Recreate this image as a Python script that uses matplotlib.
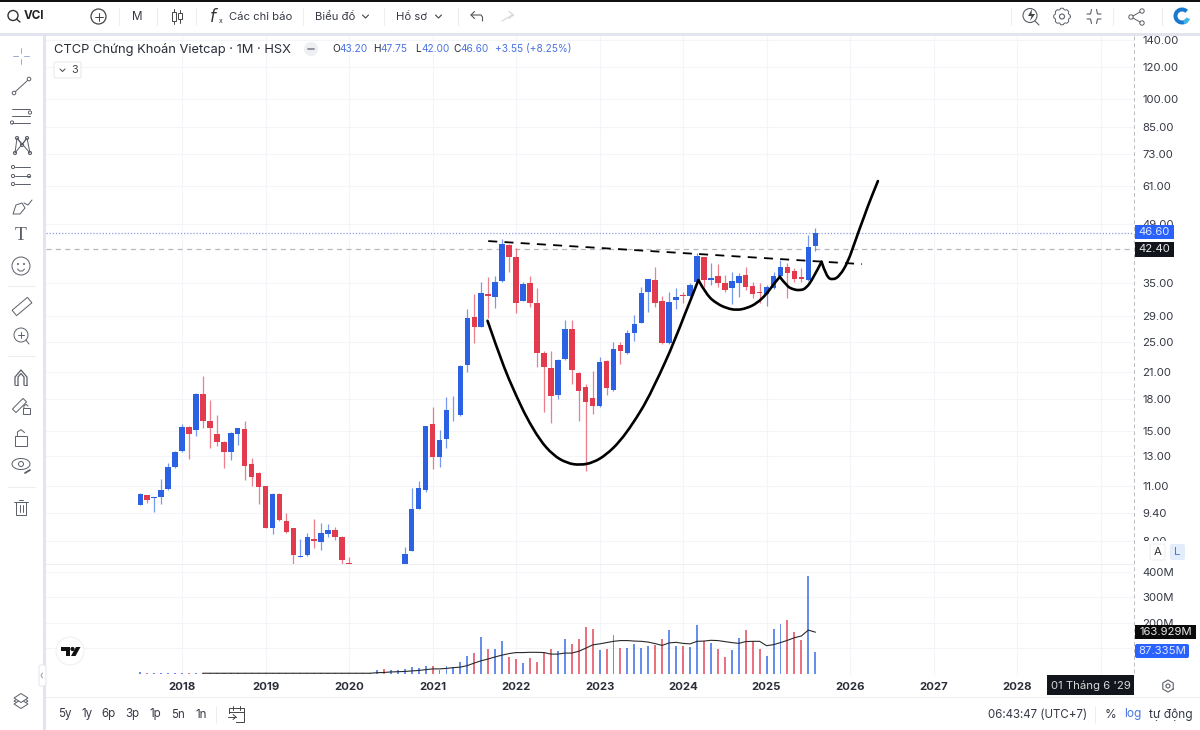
import numpy as np
import matplotlib
matplotlib.use("Agg")
import matplotlib.pyplot as plt
from matplotlib.patches import Circle, FancyBboxPatch, PathPatch, Polygon, Rectangle, Wedge
from matplotlib.path import Path
from matplotlib.ticker import NullLocator

plt.rcParams['font.family'] = ['Inter', 'Roboto', 'DejaVu Sans']

# monthly candles, Jul 2017 to Aug 2025
opens = [9.87, 10.45, 10.24, 10.28, 10.76, 12.20, 13.39, 15.41, 15.15, 18.54, 15.92, 14.78, 14.12, 13.29,
         14.78, 15.21, 12.43, 11.79, 10.96, 8.64, 10.51, 9.01, 8.62, 7.32, 7.38, 8.12, 7.98, 8.35,
         8.53, 8.22, 7.09, 6.66, 6.17, 6.41, 6.30, 6.50, 6.29, 6.60, 6.66, 7.58, 9.65, 10.72,
         15.62, 12.96, 14.39, 16.99, 16.44, 21.88, 28.84, 27.23, 32.76, 32.32, 35.35, 43.42, 40.62, 31.59,
         34.88, 31.12, 23.39, 21.47, 18.43, 22.60, 26.82, 20.94, 19.26, 18.09, 17.31, 22.43, 18.97, 24.48,
         23.39, 26.22, 27.86, 33.13, 35.55, 31.53, 24.76, 31.71, 32.57, 32.45, 35.08, 40.47, 35.55, 36.37,
         35.01, 33.90, 35.01, 36.58, 34.35, 33.26, 32.82, 33.96, 36.37, 38.36, 37.43, 36.10, 35.55, 43.20]
highs = [10.55, 10.45, 10.28, 11.45, 12.48, 13.41, 15.59, 15.47, 18.61, 20.55, 17.92, 16.44, 14.18, 14.95,
         15.30, 15.89, 12.89, 11.90, 11.00, 10.55, 10.57, 9.38, 8.64, 8.10, 8.37, 9.08, 8.89, 8.82,
         8.69, 8.24, 7.32, 7.05, 6.53, 6.79, 6.79, 6.92, 6.90, 7.00, 7.75, 10.82, 11.30, 15.44,
         17.25, 15.09, 18.19, 18.33, 21.84, 30.07, 32.82, 35.22, 36.10, 36.37, 44.85, 43.58, 42.60, 35.22,
         36.37, 33.90, 23.70, 23.75, 22.60, 28.29, 28.29, 21.02, 19.63, 21.18, 22.95, 22.51, 25.00, 25.00,
         26.72, 29.11, 34.22, 35.82, 38.36, 32.45, 33.26, 33.90, 33.26, 35.01, 41.40, 40.62, 39.10, 38.95,
         36.58, 37.28, 36.93, 38.36, 35.22, 35.01, 34.55, 37.28, 39.85, 39.25, 38.00, 38.00, 45.97, 47.75]
lows = [9.82, 9.97, 9.47, 9.93, 10.72, 12.17, 13.34, 12.82, 14.59, 15.24, 13.65, 13.78, 12.17, 12.72,
        13.86, 11.35, 10.96, 9.93, 8.62, 8.33, 9.01, 8.40, 7.05, 7.31, 7.36, 7.71, 7.61, 8.21,
        8.05, 7.05, 6.66, 6.17, 5.94, 6.17, 6.17, 6.17, 6.53, 6.53, 6.53, 7.56, 9.61, 10.60,
        12.10, 12.20, 13.67, 15.92, 16.41, 21.06, 24.76, 27.13, 28.56, 30.24, 35.22, 37.28, 29.50, 31.47,
        30.41, 21.59, 16.76, 15.74, 18.02, 22.51, 19.63, 15.92, 11.97, 16.54, 17.25, 18.43, 18.90, 22.01,
        23.30, 25.14, 27.76, 29.67, 30.41, 24.67, 24.67, 30.07, 31.12, 32.32, 34.95, 34.22, 34.55, 34.22,
        33.26, 31.00, 32.20, 33.58, 32.02, 31.12, 30.65, 33.84, 36.24, 32.02, 35.22, 35.22, 35.42, 42.00]
closes = [10.47, 10.14, 10.28, 10.72, 12.22, 13.34, 15.41, 14.78, 18.54, 15.92, 15.27, 14.12, 13.34, 14.81,
          15.24, 12.27, 11.52, 10.90, 8.64, 10.51, 9.03, 8.43, 7.41, 7.36, 8.21, 8.01, 8.37, 8.56,
          8.22, 7.18, 7.02, 6.41, 6.41, 6.66, 6.50, 6.29, 6.80, 6.90, 7.46, 9.60, 10.82, 15.44,
          12.96, 14.26, 16.92, 17.05, 21.76, 28.56, 27.23, 32.95, 32.45, 35.08, 43.67, 40.47, 31.12, 34.75,
          31.12, 23.39, 21.67, 18.36, 22.51, 26.82, 21.26, 18.90, 17.75, 17.31, 22.30, 19.15, 23.93, 23.75,
          26.22, 27.71, 32.95, 35.69, 31.12, 24.76, 31.41, 32.20, 32.45, 34.55, 40.85, 35.55, 36.03, 34.88,
          33.58, 35.42, 36.37, 34.22, 32.82, 32.95, 34.09, 36.37, 38.22, 37.07, 35.82, 35.69, 43.01, 46.60]

# volume in millions
volumes = [8, 4, 4, 4, 4, 4, 4, 4, 4, 4, 4, 4, 4, 4, 4, 4, 4, 4, 4, 4, 4, 4, 4, 4, 4, 4, 4, 4, 4, 4, 4, 4, 4,
           5, 17, 21, 16, 14, 20, 26, 22, 33, 33, 14, 30, 29, 47, 71, 82, 144, 98, 98, 131, 65, 60, 43, 63, 47,
           85, 98, 90, 139, 119, 139, 183, 176, 95, 99, 154, 103, 102, 116, 100, 111, 114, 139, 174, 111, 110,
           106, 193, 128, 123, 99, 65, 95, 140, 171, 128, 98, 72, 176, 197, 213, 165, 135, 385, 87.335]
# volume average starts at the tenth candle
vol_avg = [3, 3, 3, 3, 3, 3, 3, 3, 3, 3, 3, 3, 3, 3, 3, 3, 3, 3, 3, 3, 3, 3, 3, 3, 3,
           5, 6, 8, 9, 10, 12, 14, 17, 20, 20, 22, 25, 27, 33, 43, 52, 59, 67, 74, 80, 84, 84, 85, 85, 84,
           78, 78, 82, 82, 89, 101, 114, 118, 123, 128, 131, 131, 129, 128, 125, 119, 112, 122, 124, 120,
           118, 128, 129, 132, 131, 127, 123, 120, 127, 128, 128, 111, 115, 123, 132, 142, 149, 172, 163.929]

# hand drawn cup and handle, month index / price
cup_x = [49.9, 51.2, 52.6, 54.1, 55.5, 57.4, 59.3, 61.3, 63.2, 65.1, 67.0, 68.9, 70.8, 72.8, 74.7, 76.1, 77.5, 79.0, 80.2]
cup_y = [28.18, 24.25, 20.85, 18.23, 16.21, 14.26, 13.09, 12.50, 12.36, 12.54, 13.13, 14.13, 15.67, 17.81, 20.85, 23.57, 27.03, 31.45, 35.55]
handle1_x = [80.2, 81.4, 82.8, 84.3, 85.7, 87.1, 88.6, 90.0, 90.9, 91.9]
handle1_y = [35.55, 32.63, 31.12, 30.25, 29.95, 30.25, 31.12, 32.82, 34.55, 36.23]
handle2_x = [91.9, 92.9, 93.8, 94.8, 95.7, 96.7, 97.9]
handle2_y = [36.23, 34.35, 33.71, 33.52, 33.91, 35.96, 39.47]
rally_x = [97.9, 98.6, 99.5, 100.5, 101.7, 102.8, 104.0, 105.0, 106.0]
rally_y = [39.47, 36.23, 35.55, 36.37, 39.40, 44.68, 50.94, 56.79, 62.58]
neck_x = [50.0, 103.7]
neck_y = [44.42, 38.95]

price_ticks = [140, 120, 100, 85, 73, 61, 49, 35, 29, 25, 21, 18, 15, 13, 11, 9.40, 8.00]
vol_ticks = [100, 200, 300, 400]
year_ticks = [6, 18, 30, 42, 54, 66, 78, 90, 102, 114, 126, 138]
year_labels = ['2018', '2019', '2020', '2021', '2022', '2023', '2024', '2025', '2026', '2027', '2028', '']
last_close = 46.60
prev_close = 42.40

BLUE = '#2b62e3'
RED = '#e23b4e'
GRID = '#f4f5f8'
BORDER = '#e3e5ee'
TEXT = '#363a45'
ICON = '#5a5e68'
W, H = 1200, 730

fig = plt.figure(figsize=(12, 7.3), dpi=100)
fig.patch.set_facecolor('white')


def pane(x0, y0, x1, y1):
    return fig.add_axes([x0 / W, 1 - y1 / H, (x1 - x0) / W, (y1 - y0) / H])


def style_pane(ax):
    ax.set_xlim(-13.55, 142.8)
    ax.set_xticks(year_ticks)
    ax.grid(True, color=GRID, lw=0.8)
    ax.set_axisbelow(True)
    ax.yaxis.tick_right()
    ax.tick_params(length=0, labelsize=8.2, labelcolor=TEXT)
    ax.tick_params(axis='y', pad=5.8)
    for s in ax.spines.values():
        s.set_visible(False)


# candles on a log price scale
ax = pane(46, 35, 1134, 564)
style_pane(ax)
ax.set_yscale('log')
ax.set_ylim(7.03, 144.06)
ax.set_yticks(price_ticks)
ax.set_yticklabels([f'{v:.2f}' for v in price_ticks])
ax.yaxis.set_minor_locator(NullLocator())
ax.tick_params(axis='x', labelbottom=False)

idx = np.arange(len(opens))
up = np.array(closes) >= np.array(opens)
colors = [BLUE if u else RED for u in up]
ax.vlines(idx, lows, highs, colors=colors, lw=0.9, alpha=0.65, zorder=2)
body_lo = np.minimum(opens, closes)
body_hi = np.maximum(opens, closes)
ax.bar(idx, body_hi - body_lo, bottom=body_lo, width=0.8, color=colors, lw=0, zorder=3)

ax.axhline(last_close, color='#8d9fe6', lw=0.9, ls=(0, (1, 1.5)), zorder=1)
ax.axhline(prev_close, color='#b5b8bf', lw=0.9, ls=(0, (4, 3.5)), zorder=1)


def smooth_path(xs, ys):
    # quadratic segments through midpoints, so the stroke has no facets
    pts = np.column_stack([xs, ys])
    verts = [pts[0]]
    codes = [Path.MOVETO]
    for k in range(1, len(pts) - 1):
        end = pts[k + 1] if k == len(pts) - 2 else (pts[k] + pts[k + 1]) / 2
        verts += [pts[k], end]
        codes += [Path.CURVE3, Path.CURVE3]
    return Path(verts, codes)


for xs, ys in [(cup_x, cup_y), (handle1_x, handle1_y), (handle2_x, handle2_y), (rally_x, rally_y)]:
    ax.add_patch(PathPatch(smooth_path(xs, ys), fc='none', ec='black', lw=1.9, zorder=5, capstyle='round'))
ax.plot(neck_x, neck_y, color='black', lw=1.3, ls=(0, (5, 4)), zorder=5)

# volume pane
vax = pane(46, 565, 1134, 676)
style_pane(vax)
vax.set_ylim(-7.8, 427)
vax.set_yticks(vol_ticks)
vax.set_yticklabels([f'{v}M' if v != 100 else '' for v in vol_ticks])
vax.set_xticklabels(year_labels)
vax.tick_params(axis='x', pad=4.5, labelsize=8.2, labelcolor='#2a2e39')
for t in vax.get_xticklabels():
    t.set_fontweight('bold')
vax.bar(idx, volumes, width=0.28, color=colors, alpha=0.72, lw=0, zorder=2)
vax.plot(idx[9:], vol_avg, color='#2a2a2a', lw=0.8, zorder=3)

# everything around the panes is drawn in pixel coordinates
ui = fig.add_axes([0, 0, 1, 1], zorder=10)
ui.set_xlim(0, W)
ui.set_ylim(H, 0)
ui.axis('off')
ui.patch.set_alpha(0)


def rect(x0, y0, x1, y1, color, **kw):
    ui.add_patch(Rectangle((x0, y0), x1 - x0, y1 - y0, fc=color, ec='none', **kw))


def label(x, y, s, size=8.6, color=TEXT, ha='left', **kw):
    ui.text(x, y, s, fontsize=size, color=color, ha=ha, va='center', **kw)


def line(xs, ys, color=ICON, lw=0.7, **kw):
    ui.plot(xs, ys, color=color, lw=lw, solid_capstyle='round', **kw)


def ring(x, y, r, color=ICON, lw=0.7, fc='none'):
    ui.add_patch(Circle((x, y), r, fc=fc, ec=color, lw=lw))


def pill(x0, y0, x1, y1, color, ec='none'):
    ui.add_patch(FancyBboxPatch((x0 + 2, y0 + 2), x1 - x0 - 4, y1 - y0 - 4, boxstyle='round,pad=2',
                                fc=color, ec=ec, lw=0.7))


# frame
rect(0, 0, W, 1.5, '#111111')
rect(0, 33, W, 36, BORDER)
rect(43, 36, 46, H, BORDER)
rect(46, 564, 1134, 565.2, '#eceef3')
rect(46, 696.5, W, 697.7, '#eceef3')
line([1134, 1134], [36, 676], color='#b9bcc4', lw=0.7, ls=(0, (4, 3)))

# top toolbar
ring(13, 15.5, 5, color='#333333', lw=1)
line([16.5, 20], [19, 22], color='#333333', lw=1)
label(24, 16, 'VCI', size=8.4, color='#222222', fontweight='bold')
ring(98.5, 16.5, 7.5, color='#444444', lw=0.9)
line([98.5, 98.5], [12.5, 20.5], color='#444444')
line([94.5, 102.5], [16.5, 16.5], color='#444444')
label(137.5, 16.5, 'M', ha='center', size=8.4)
for cx, top, bot, w0, w1 in [(174, 12, 21, 9, 24), (180, 13, 19, 10, 23)]:
    ui.add_patch(Rectangle((cx - 2, top), 4, bot - top, fc='white', ec='#444444', lw=0.7))
    line([cx, cx], [w0, top], color='#444444')
    line([cx, cx], [bot, w1], color='#444444')
ui.text(214, 16, r'$f$', fontsize=12, color='#333333', ha='center', va='center')
label(219, 21, 'x', size=5, color='#333333')
label(229, 16.5, 'Các chỉ báo', size=8.1)
label(315, 16.5, 'Biểu đồ', size=8.1)
label(396, 16.5, 'Hồ sơ', size=8.1)
for cx in (365.5, 438.5):
    line([cx - 3, cx, cx + 3], [15, 18, 15], color='#444444', lw=0.8)
line([471, 481, 482.5, 482.5], [15, 15, 17, 21], color='#555555', lw=0.8)
line([474.5, 471, 474.5], [11.5, 15, 18.5], color='#555555', lw=0.8)
line([502, 512, 513.5], [21, 15, 15], color='#d4d6da', lw=0.8)
line([509, 513.5, 509], [11.5, 15, 18.5], color='#d4d6da', lw=0.8)
for sx in (119, 157, 196, 303, 384, 458, 1011, 1113, 1162):
    line([sx, sx], [8, 25], color='#eceef2', lw=0.8)

ring(1030, 15.5, 7, lw=0.8)
line([1035, 1039], [21, 25], lw=0.8)
ui.add_patch(Polygon([(1032, 9), (1028, 16), (1031.5, 16), (1030, 21), (1035, 14), (1031.5, 14)], fc='#444444', ec='none'))
ring(1062, 16.5, 2.5, lw=0.8)
gear = np.linspace(0, 2 * np.pi, 41)
gear_r = 7.2 + 1.1 * np.where(np.cos(8 * gear) > 0, 1, 0)
line(1062 + gear_r * np.cos(gear), 16.5 + gear_r * np.sin(gear), lw=0.7)
for sx, sy in [(-1, -1), (1, -1), (-1, 1), (1, 1)]:
    cx, cy = 1094 + sx * 2.5, 16.5 + sy * 2.5
    line([cx + sx * 4.5, cx + sx * 1, cx], [cy, cy, cy + sy * 4.5], lw=0.8)
ring(1131, 17, 2.2)
ring(1142, 11, 2.2)
ring(1142, 23, 2.2)
line([1133, 1140], [16, 12])
line([1133, 1140], [18, 22])
ui.add_patch(Wedge((1182, 16), 8.5, 45, 315, width=4, fc='#1b78cf', ec='none'))
ui.add_patch(Wedge((1182, 16), 8.5, 20, 75, width=4, fc='#3fb5e8', ec='none'))

# left toolbar
line([21, 21], [48, 53], color='#9aa9d6')
line([21, 21], [59, 64], color='#9aa9d6')
line([13, 18], [56, 56], color='#9aa9d6')
line([24, 29], [56, 56], color='#9aa9d6')
ring(14, 93, 1.8)
ring(29, 79, 1.8)
line([15.5, 27.5], [91.5, 80.5])
for ly, rx in [(109, 29), (116, 29), (123, 12)]:
    line([12, 30], [ly, ly])
ring(30, 112.5, 1.6)
ring(12, 122.5, 1.6)
for px, py in [(15, 153), (17, 138), (27, 138), (30, 153), (22, 145)]:
    ring(px, py, 1.6)
line([15, 17, 22, 27, 30], [153, 138, 145, 138, 153])
line([15, 27], [153, 138])
line([17, 30], [138, 153])
for ly in (167, 176, 184):
    ring(13, ly, 1.6)
    line([15, 30], [ly, ly])
ring(29, 176, 1.6)
ui.add_patch(Polygon([(13, 214), (16, 205), (22, 203), (25, 208), (20, 214)], fc='white', ec=ICON, lw=0.7))
line([24, 28, 32], [203, 205, 200])
label(21, 236, 'T', size=14, color=ICON, ha='center', family='Liberation Serif')
ring(21, 266, 9)
ring(18, 264, 0.5)
ring(24, 264, 0.5)
line([17.5, 19.5, 22.5, 24.5], [269, 271, 271, 269])
ui.add_patch(Rectangle((12, 303), 20, 7, angle=-40, rotation_point='center', fc='white', ec=ICON, lw=0.7))
ring(21, 335, 7)
line([26, 29], [340, 344])
line([21, 21], [332, 338])
line([18, 24], [335, 335])
line([15, 15, 21, 27, 27], [385, 377, 370, 377, 385], lw=0.9)
line([18, 18, 21, 24, 24], [385, 377, 373.5, 377, 385], lw=0.9)
line([15, 18], [385, 385])
line([24, 27], [385, 385])
ui.add_patch(Rectangle((12, 403), 15, 5, angle=-45, rotation_point='center', fc='white', ec=ICON, lw=0.7))
for cx, cy, sz in [(26, 411, 3.5), (21, 441, 6)]:
    ui.add_patch(Rectangle((cx - sz, cy - sz * 0.8), 2 * sz, 1.6 * sz, fc='white', ec=ICON, lw=0.7))
    line([cx - sz * 0.6, cx - sz * 0.6, cx, cx + sz * 0.6], [cy - sz * 0.8, cy - sz * 1.5, cy - sz * 1.9, cy - sz * 1.4])
ui.add_patch(Polygon(np.column_stack([21 + 9 * np.cos(gear), 464 + 5.5 * np.sin(gear)]), fc='none', ec=ICON, lw=0.7))
ring(21, 464, 2.5)
line([25, 30], [473, 470], lw=1.3)
line([14, 28], [502, 502])
ui.add_patch(Rectangle((16, 502), 10, 13, fc='white', ec=ICON, lw=0.7))
line([19, 23], [500, 500])
line([19.5, 19.5], [505, 512])
line([22.5, 22.5], [505, 512])
for sy in (286, 356, 487):
    line([8, 35], [sy, sy], color='#eceef2', lw=0.8)
for ly, c in [(701, 'white'), (704, 'white')]:
    ui.add_patch(Polygon([(14, ly), (21, ly + 4.5), (28, ly), (21, ly - 4.5)], fc=c, ec=ICON, lw=0.7))
ui.add_patch(Polygon([(14, 698), (21, 702.5), (28, 698), (21, 693.5)], fc='white', ec=ICON, lw=0.7))

# legend row
label(54, 49, 'CTCP Chứng Khoán Vietcap · 1M · HSX', size=9.3, color='#2a2e39')
ring(311, 49, 6.5, color='#eeeff2', fc='#eeeff2')
line([308, 314], [49, 49], color='#8a8d96', lw=1.3)
for x, k, v in [(332, 'O', '43.20'), (373, 'H', '47.75'), (415, 'L', '42.00'), (453, 'C', '46.60')]:
    label(x, 49, k, size=7.3, color='#2a2e39')
    label(x + (7.5 if k != 'L' else 6), 49, v, size=7.3, color='#4a74e0')
label(495, 49, '+3.55 (+8.25%)', size=7.3, color='#4a74e0')
pill(54, 62, 81, 78, 'white', ec='#e6e7ec')
line([60, 62.5, 65], [69, 71.5, 69], color='#444444')
label(71, 70, '3', size=7.8, color='#444444')

# price and volume tags on the scale
rect(1135, 225, 1174, 239, '#2962ff')
label(1154.5, 232, f'{last_close:.2f}', size=8.2, color='#dfe6ff', ha='center')
rect(1135, 242, 1174, 257, '#12151c')
label(1154.5, 249.5, f'{prev_close:.2f}', size=8.2, color='#e6e6e6', ha='center')
rect(1136, 541, 1192, 563, 'white')
pill(1150, 544, 1165, 560, 'white', ec='#eceef2')
label(1157.5, 552, 'A', size=8.2, color='#333333', ha='center')
pill(1170, 544, 1185, 560, '#e3ecfb')
label(1177.5, 552, 'L', size=8.2, color='#4a74e0', ha='center')
rect(1135, 625, 1196, 639, '#0a0a0a')
label(1165.5, 632, f'{vol_avg[-1]:.3f}M', size=8.2, color='#e8e8e8', ha='center')
pill(1135, 644, 1189, 658, '#2962ff')
label(1162, 651, f'{volumes[-1]:.3f}M', size=8.2, color='#dfe6ff', ha='center')

# crosshair date tag and axis settings
rect(1047, 675, 1134, 695, '#12151c')
label(1090.5, 686, "01 Tháng 6 '29", size=8.2, color='#d8d8d8', ha='center')
hexa = np.linspace(np.pi / 6, 2 * np.pi + np.pi / 6, 7)
line(1168 + 6 * np.cos(hexa), 686 + 6 * np.sin(hexa), lw=0.8)
ring(1168, 686, 2, lw=0.8)

# tradingview badge
ring(70, 651, 14, color='#eeeff2', fc='white')
ui.add_patch(Polygon([(61, 647), (69.5, 647), (69.5, 656), (65.5, 656), (65.5, 651), (61, 651)], fc='#111111', ec='none'))
ring(72.5, 649, 1.6, color='#111111', fc='#111111')
ui.add_patch(Polygon([(76, 647), (80.5, 647), (75.5, 656), (71, 656)], fc='#111111', ec='none'))
pill(39, 665, 46, 686, 'white', ec='#e3e5ee')
line([42.5, 41, 42.5], [673, 675.5, 678], color='#9a9da5', lw=0.7)

# bottom bar
for x, s in [(64.5, '5y'), (87, '1y'), (109, '6p'), (132.5, '3p'), (155.5, '1p'), (178, '5n'), (201.5, '1n')]:
    label(x, 714.5, s, size=8.3, ha='center')
line([216, 216], [706, 723], color='#eceef2')
ui.add_patch(Rectangle((229, 708), 15, 14, fc='none', ec='#444444', lw=0.7))
line([233, 233], [706, 710], color='#444444')
line([240, 240], [706, 710], color='#444444')
line([229, 244], [712, 712], color='#444444')
rect(227, 714, 236, 723, 'white')
line([228, 236], [717, 717], color='#444444')
line([233, 236, 233], [714.5, 717, 719.5], color='#444444')
label(1087, 714.5, '06:43:47 (UTC+7)', size=8.3, ha='right')
line([1095, 1095], [706, 723], color='#eceef2')
label(1110, 714.5, '%', size=8.6, ha='center')
label(1133, 714.5, 'log', size=8.6, color='#4a74e0', ha='center')
label(1171, 714.5, 'tự động', size=8.6, ha='center')

fig.savefig('out.png', dpi=100, facecolor='white')
